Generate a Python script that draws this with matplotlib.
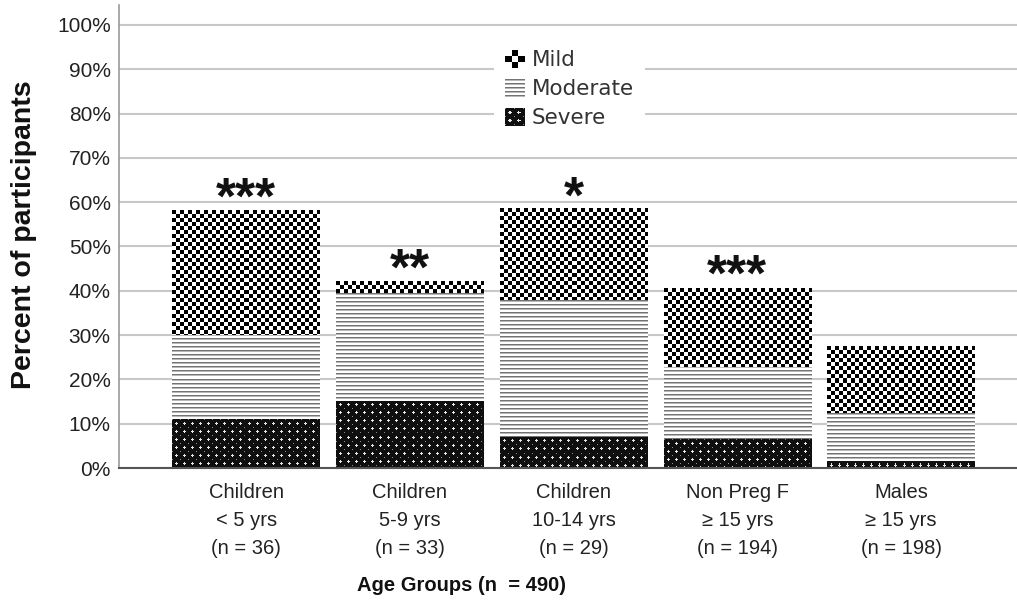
import numpy as np
import matplotlib
matplotlib.use("Agg")
import matplotlib.pyplot as plt
from matplotlib.legend_handler import HandlerBase
from matplotlib.image import BboxImage
from matplotlib.transforms import Bbox, TransformedBbox
from matplotlib.patches import Patch

groups = [
    "Children\n< 5 yrs\n(n = 36)",
    "Children\n5-9 yrs\n(n = 33)",
    "Children\n10-14 yrs\n(n = 29)",
    "Non Preg F\n≥ 15 yrs\n(n = 194)",
    "Males\n≥ 15 yrs\n(n = 198)",
]
severe = [11.0, 15.2, 7.0, 6.5, 1.6]
moderate = [19.0, 24.3, 30.9, 16.4, 10.8]
mild = [28.2, 2.7, 20.6, 17.8, 14.9]
stars = ["***", "**", "*", "***", ""]
yticks = list(range(0, 101, 10))

FONT = ["Liberation Sans", "DejaVu Sans"]
plt.rcParams["font.family"] = FONT


def mild_tile(h, w):
    i, j = np.mgrid[0:h, 0:w]
    return ((i // 4 + j // 4) % 2).astype(float)


def moderate_tile(h, w):
    i, j = np.mgrid[0:h, 0:w]
    t = np.ones((h, w))
    t[i % 4 == 0] = 0.45
    t[i % 4 == 1] = 0.72
    return t


def severe_tile(h, w):
    i, j = np.mgrid[0:h, 0:w]
    a, b = i % 8, j % 8
    t = np.full((h, w), 0.06)
    t[((a == 4) & (abs(b - 4) <= 1)) | ((b == 4) & (abs(a - 4) <= 1))] = 0.9
    t[(a == 0) & (b == 0)] = 0.55
    return t


def legend_tile(kind):
    n = 18
    i, j = np.mgrid[0:n, 0:n]
    if kind == "mild":
        return (((i // 6 + j // 6) % 2) == 0).astype(float)
    if kind == "moderate":
        return moderate_tile(n, n)
    return severe_tile(n, n)


class PatternHandler(HandlerBase):
    def __init__(self, tile):
        super().__init__()
        self.tile = tile

    def create_artists(self, legend, orig_handle, xdescent, ydescent,
                       width, height, fontsize, trans):
        bb = TransformedBbox(Bbox.from_bounds(-xdescent, -ydescent, width, height), trans)
        img = BboxImage(bb, cmap="gray", norm=matplotlib.colors.Normalize(0, 1),
                        interpolation="nearest")
        img.set_data(self.tile)
        return [img]


fig = plt.figure(figsize=(10.17, 6.02), dpi=100)
ax = fig.add_axes([119 / 1017, 134 / 602, 898 / 1017, 463 / 602])
x = np.arange(len(groups))
XLIM = (-0.776, 4.708)
YLIM = (0, 104.5)
ax.set_xlim(*XLIM)
ax.set_ylim(*YLIM)

bottom = np.zeros(len(groups))
for vals, tile_fn in [(severe, severe_tile), (moderate, moderate_tile), (mild, mild_tile)]:
    bars = ax.bar(x, vals, bottom=bottom, width=0.9, color="none", edgecolor="none", zorder=2)
    for rect in bars:
        x0, y0 = rect.get_x(), rect.get_y()
        w, h = rect.get_width(), rect.get_height()
        (px0, py0), (px1, py1) = ax.transData.transform([(x0, y0), (x0 + w, y0 + h)])
        nw, nh = max(int(round(px1 - px0)), 1), max(int(round(py1 - py0)), 1)
        ax.imshow(tile_fn(nh, nw), extent=(x0, x0 + w, y0, y0 + h), cmap="gray",
                  vmin=0, vmax=1, interpolation="nearest", aspect="auto", zorder=2)
    bottom += np.array(vals)

ax.set_xlim(*XLIM)
ax.set_ylim(*YLIM)

# significance stars just above each bar
for xi, total, s in zip(x, bottom, stars):
    if s:
        ax.annotate(s, (xi, total), xytext=(0, -2.4), textcoords="offset points",
                    ha="center", va="baseline", fontsize=37, fontweight="bold",
                    color="#111")

ax.set_yticks(yticks)
ax.set_yticklabels([f"{t}%" for t in yticks], fontsize=15, color="#222")
ax.set_xticks(x)
ax.set_xticklabels(groups, fontsize=14.5, color="#222", linespacing=1.6)
ax.tick_params(axis="both", length=0)
ax.tick_params(axis="x", pad=11)
ax.tick_params(axis="y", pad=6)
ax.grid(axis="y", color="#c8c8c8", linewidth=1.5, zorder=0)
ax.set_axisbelow(True)

for side in ["top", "right"]:
    ax.spines[side].set_visible(False)
ax.spines["left"].set_color("#999999")
ax.spines["left"].set_linewidth(1.2)
ax.spines["bottom"].set_color("#555555")
ax.spines["bottom"].set_linewidth(1.5)

ax.set_ylabel("Percent of participants", fontsize=20.5, fontweight="bold", color="#111")
ax.yaxis.set_label_coords(-0.091, 0.503)
ax.set_xlabel("Age Groups (n  = 490)", fontsize=14.5, fontweight="bold", color="#111")
ax.xaxis.set_label_coords(0.381, -0.233)

handles = [Patch(label="Mild"), Patch(label="Moderate"), Patch(label="Severe")]
hmap = {handles[0]: PatternHandler(legend_tile("mild")),
        handles[1]: PatternHandler(legend_tile("moderate")),
        handles[2]: PatternHandler(legend_tile("severe"))}
leg = ax.legend(handles=handles, handler_map=hmap, loc="upper left",
                bbox_to_anchor=(0.4176, 0.926), frameon=True, framealpha=1,
                edgecolor="none", fancybox=False,
                prop={"family": "DejaVu Sans", "size": 15.5},
                handlelength=0.9, handleheight=0.9, handletextpad=0.37,
                labelspacing=0.4, borderpad=0.5, borderaxespad=0)
for t in leg.get_texts():
    t.set_color("#333")

fig.savefig("out.png", dpi=100)
